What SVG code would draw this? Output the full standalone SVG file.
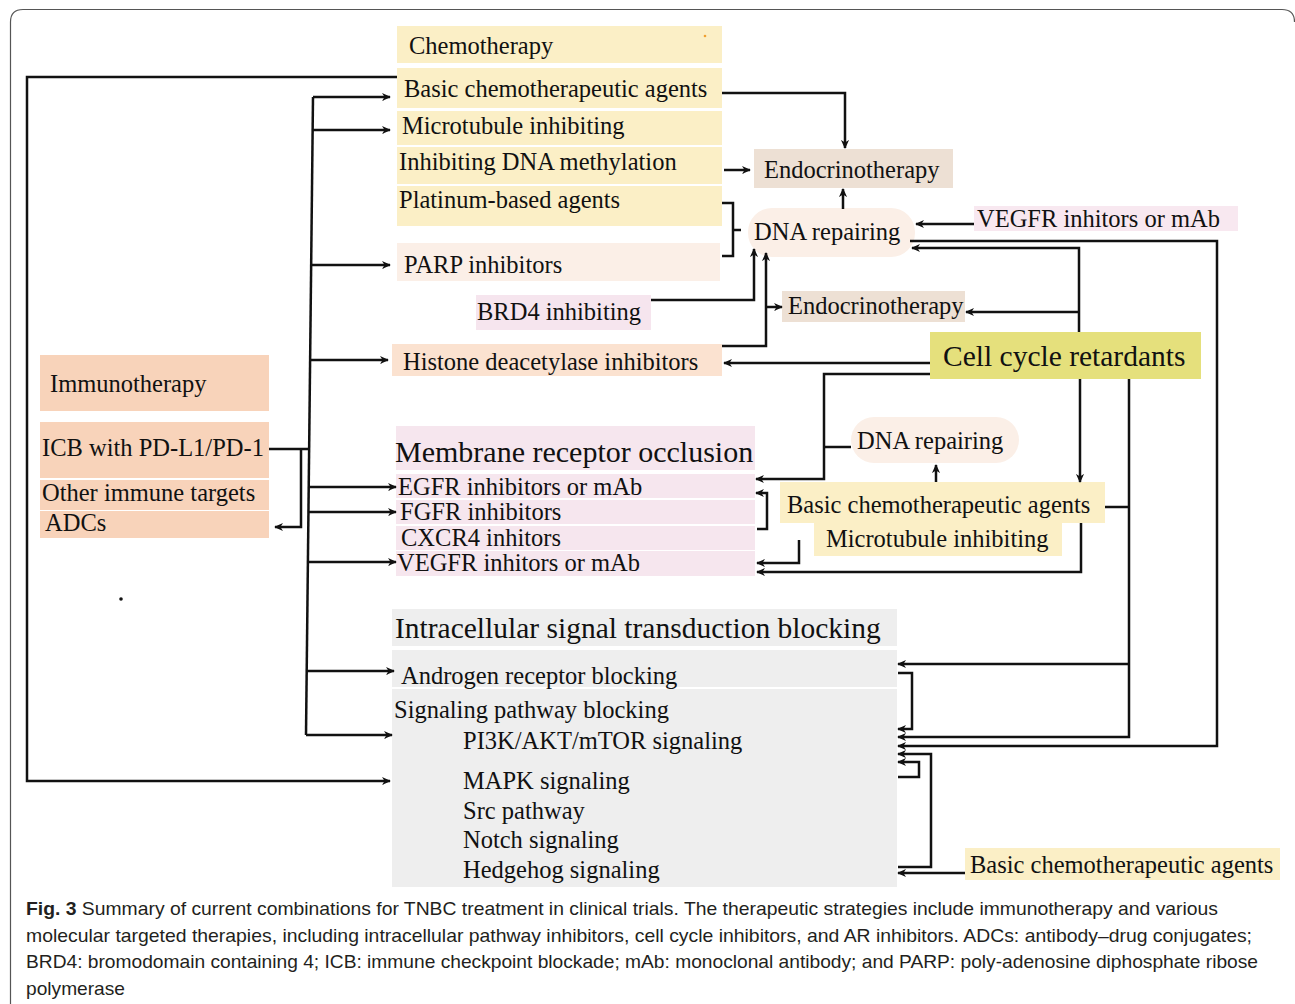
<svg xmlns="http://www.w3.org/2000/svg" width="1295" height="1004" viewBox="0 0 1295 1004">
<style>
text{font-family:"Liberation Serif","Times New Roman",serif;font-size:24.5px;fill:#111}
.big{font-size:29.5px}
.cap{font-family:"Liberation Sans",Arial,sans-serif;font-size:18.5px;fill:#231f20}
.ln{fill:none;stroke:#111;stroke-width:2.5}
.ar{marker-end:url(#ah)}
.y{fill:#fbefc6}
.pk{fill:#f6e6ee}
.pe{fill:#f8d3ba}
.gr{fill:#eeeeee}
.en{fill:#ede0d4}
.dr{fill:#fbefe7}
</style>
<defs>
<marker id="ah" viewBox="0 0 10 10" refX="9" refY="5" markerWidth="9" markerHeight="9" markerUnits="userSpaceOnUse" orient="auto">
<path d="M0,0.5 L10,5 L0,9.5 L3,5 z" fill="#111"/>
</marker>
</defs>
<rect width="1295" height="1004" fill="#fff"/>
<path d="M10.5,1004 V22 Q10.5,9.5 23,9.5 H1282 Q1294.5,9.5 1294.5,22" fill="none" stroke="#555" stroke-width="1.2"/>

<g id="chemotherapy"><rect class="y" x="397" y="26" width="325" height="37"/><text x="409" y="54">Chemotherapy</text><circle cx="705" cy="36" r="1.3" fill="#f0a030"/></g>
<g id="basic-chemo"><rect class="y" x="397" y="68" width="325" height="40"/><text x="404" y="97">Basic chemotherapeutic agents</text></g>
<g id="microtubule"><rect class="y" x="397" y="111" width="325" height="34"/><text x="402" y="134">Microtubule inhibiting</text></g>
<g id="dna-methylation"><rect class="y" x="397" y="147" width="325" height="37"/><text x="399" y="170">Inhibiting DNA methylation</text></g>
<g id="platinum"><rect class="y" x="397" y="186" width="325" height="40"/><text x="399" y="208">Platinum-based agents</text></g>
<g id="parp"><rect x="397" y="243" width="323" height="38" fill="#fbefe7"/><text x="404" y="273">PARP inhibitors</text></g>
<g id="brd4"><rect x="476" y="295" width="175" height="35" fill="#f6e5ee"/><text x="477" y="320">BRD4 inhibiting</text></g>
<g id="histone"><rect x="392" y="344" width="330" height="32" fill="#fbe2d0"/><text x="403" y="370">Histone deacetylase inhibitors</text></g>

<g id="endo-top"><rect class="en" x="754" y="149" width="199" height="39"/><text x="764" y="178">Endocrinotherapy</text></g>
<g id="dna-repair-top"><rect class="dr" x="748" y="208" width="167" height="49" rx="24"/><text x="754" y="240">DNA repairing</text></g>
<g id="vegfr-top"><rect x="974" y="206" width="264" height="25" fill="#f8e8f0"/><text x="977" y="227">VEGFR inhitors or mAb</text></g>
<g id="endo-mid"><rect class="en" x="782" y="291" width="183" height="31"/><text x="788" y="314">Endocrinotherapy</text></g>
<g id="cell-cycle"><rect x="930" y="332" width="271" height="47" fill="#e5e07c"/><text class="big" x="943" y="366">Cell cycle retardants</text></g>

<g id="immunotherapy"><rect class="pe" x="40" y="355" width="229" height="56"/><text x="50" y="392">Immunotherapy</text></g>
<g id="icb"><rect class="pe" x="40" y="422" width="229" height="56"/><text x="42" y="456">ICB with PD-L1/PD-1</text></g>
<g id="other-immune"><rect class="pe" x="40" y="480" width="229" height="30"/><text x="42" y="501">Other immune targets</text></g>
<g id="adcs"><rect class="pe" x="40" y="511" width="229" height="27"/><text x="45" y="531">ADCs</text></g>
<circle cx="121" cy="599" r="1.8" fill="#111"/>

<g id="membrane"><rect class="pk" x="396" y="426" width="359" height="44"/><text x="395" y="462" style="font-size:30px">Membrane receptor occlusion</text></g>
<g id="egfr"><rect class="pk" x="396" y="474" width="359" height="24"/><text x="398" y="495">EGFR inhibitors or mAb</text></g>
<g id="fgfr"><rect class="pk" x="396" y="500" width="359" height="24"/><text x="400" y="520">FGFR inhibitors</text></g>
<g id="cxcr4"><rect class="pk" x="396" y="526" width="359" height="24"/><text x="401" y="546">CXCR4 inhitors</text></g>
<g id="vegfr-mid"><rect class="pk" x="396" y="551" width="359" height="25"/><text x="397" y="571">VEGFR inhitors or mAb</text></g>

<g id="dna-repair-mid"><rect class="dr" x="851" y="417" width="168" height="46" rx="23"/><text x="857" y="449">DNA repairing</text></g>
<g id="basic-chemo-mid"><rect class="y" x="780" y="482" width="325" height="41"/><text x="787" y="513">Basic chemotherapeutic agents</text></g>
<g id="microtubule-mid"><rect class="y" x="814" y="523" width="248" height="33"/><text x="826" y="547">Microtubule inhibiting</text></g>

<g id="intracellular"><rect class="gr" x="392" y="609" width="505" height="37"/><text class="big" x="395" y="638">Intracellular signal transduction blocking</text></g>
<g id="androgen"><rect class="gr" x="392" y="650" width="505" height="37"/><text x="401" y="684">Androgen receptor blocking</text></g>
<g id="signaling"><rect class="gr" x="392" y="689" width="505" height="198"/>
<text x="394" y="718">Signaling pathway blocking</text>
<text x="463" y="749">PI3K/AKT/mTOR signaling</text>
<text x="463" y="789">MAPK signaling</text>
<text x="463" y="819">Src pathway</text>
<text x="463" y="848">Notch signaling</text>
<text x="463" y="878">Hedgehog signaling</text></g>
<g id="basic-chemo-bottom"><rect class="y" x="965" y="848" width="315" height="32"/><text x="970" y="873">Basic chemotherapeutic agents</text></g>

<g id="connectors">
<path class="ln ar" d="M397,77 H27 V781 H390"/>
<path class="ln" d="M313,97 L306,735"/>
<path class="ln ar" d="M313,97 H390"/>
<path class="ln ar" d="M313,130 H390"/>
<path class="ln ar" d="M312,265 H390"/>
<path class="ln ar" d="M311,360 H388"/>
<path class="ln" d="M269,449 H310"/>
<path class="ln ar" d="M301,449 V527 H275"/>
<path class="ln ar" d="M309,487 H396"/>
<path class="ln ar" d="M309,512 H396"/>
<path class="ln ar" d="M308,562 H396"/>
<path class="ln ar" d="M307,671 H394"/>
<path class="ln ar" d="M306,735 H392"/>

<path class="ln ar" d="M722,93 H845 V148"/>
<path class="ln ar" d="M724,170 H750"/>
<path class="ln" d="M722,203 H733 V256 H722 M733,230 H741"/>
<path class="ln ar" d="M843,209 V189"/>
<path class="ln ar" d="M651,300 H754 V249"/>
<path class="ln ar" d="M722,346 H766 V253"/>
<path class="ln ar" d="M766,307 H782"/>
<path class="ln ar" d="M974,224 H916"/>

<path class="ln ar" d="M910,241 H1217 V746 H898"/>
<path class="ln ar" d="M1079,332 V248 H912"/>
<path class="ln ar" d="M1079,312 H966"/>
<path class="ln ar" d="M930,363 H724"/>
<path class="ln ar" d="M930,374 H824 V479 H756"/>
<path class="ln" d="M824,447 H851"/>
<path class="ln ar" d="M1080,379 V482"/>
<path class="ln ar" d="M1129,379 V737 H898"/>
<path class="ln ar" d="M1129,664 H898"/>
<path class="ln" d="M1105,507 H1129"/>
<path class="ln ar" d="M936,482 V465"/>
<path class="ln ar" d="M757,529 H767 V493 H756"/>
<path class="ln ar" d="M799,540 V563 H757"/>
<path class="ln ar" d="M1081,523 V572 H757"/>

<path class="ln ar" d="M898,673 H912 V729 H898"/>
<path class="ln ar" d="M898,867 H931 V754 H898"/>
<path class="ln ar" d="M898,777 H919 V762 H898"/>
<path class="ln ar" d="M965,873 H898"/>
</g>

<g id="caption">
<text class="cap" x="26" y="915" textLength="1192" lengthAdjust="spacingAndGlyphs"><tspan font-weight="bold">Fig. 3</tspan>  Summary of current combinations for TNBC treatment in clinical trials. The therapeutic strategies include immunotherapy and various</text>
<text class="cap" x="26" y="942" textLength="1226" lengthAdjust="spacingAndGlyphs">molecular targeted therapies, including intracellular pathway inhibitors, cell cycle inhibitors, and AR inhibitors. ADCs: antibody–drug conjugates;</text>
<text class="cap" x="26" y="968" textLength="1232" lengthAdjust="spacingAndGlyphs">BRD4: bromodomain containing 4; ICB: immune checkpoint blockade; mAb: monoclonal antibody; and PARP: poly-adenosine diphosphate ribose</text>
<text class="cap" x="26" y="995" textLength="99" lengthAdjust="spacingAndGlyphs">polymerase</text>
</g>
</svg>
